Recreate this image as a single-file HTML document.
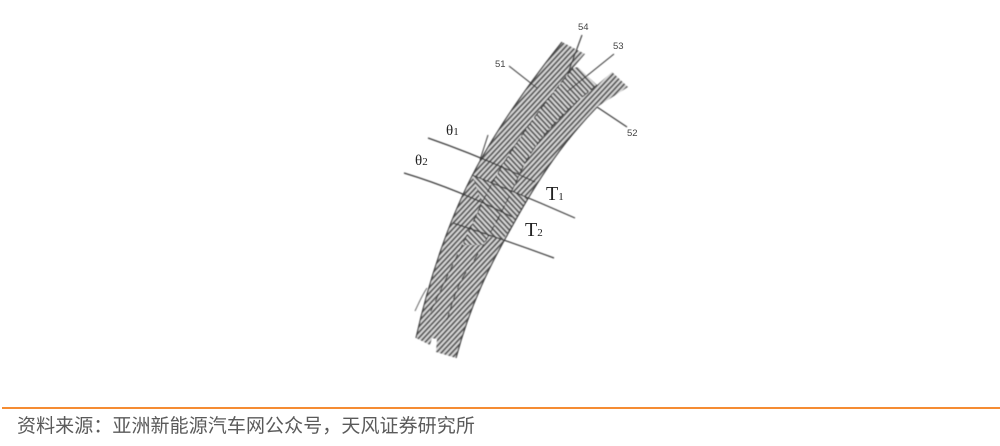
<!DOCTYPE html>
<html lang="zh">
<head>
<meta charset="utf-8">
<style>
html,body{margin:0;padding:0;background:#fff}
body{width:1000px;height:446px;overflow:hidden;position:relative}
svg{position:absolute;left:0;top:0}
.src{position:absolute;left:17px;top:413px;font:19px/28px "Liberation Sans","Noto Sans CJK SC",sans-serif;letter-spacing:.08px;color:#5a5a5a;white-space:nowrap}
.rule{position:absolute;left:2px;right:0;top:407px;height:2px;background:#f58c32}
</style>
</head>
<body>
<svg width="1000" height="446" viewBox="0 0 1000 446" xmlns="http://www.w3.org/2000/svg">
<defs>
<pattern id="a" width="3.8" height="3.8" patternUnits="userSpaceOnUse" patternTransform="rotate(-47)"><rect width="3.8" height="3.8" fill="#d8d8d8"/><rect width="3.8" height="1.9" fill="#5a5a5a"/></pattern>
<pattern id="b" width="3.8" height="3.8" patternUnits="userSpaceOnUse" patternTransform="rotate(47)"><rect width="3.8" height="3.8" fill="#d8d8d8"/><rect width="3.8" height="1.9" fill="#5a5a5a"/></pattern>
<clipPath id="low"><rect x="400" y="245" width="120" height="120"/></clipPath>
<filter id="s" x="-5%" y="-5%" width="110%" height="110%"><feGaussianBlur stdDeviation="0.45"/></filter>
</defs>
<g filter="url(#s)">
<!-- band 51 -->
<path d="M562,42 L585,54 L573,68 C540,108 505,155 482,203 C465,240 445,280 430,313 L432,338 L430,345 L416,338 C430,275 450,220 470,180 C490,140 520,95 562,42 Z" fill="url(#a)"/>
<!-- band 53 -->
<path id="m" d="M573,68 L578,67 L597,85 C565,110 535,140 520,173 C505,207 485,245 463,277 C455,292 450,310 437,339 L432,338 L430,313 C445,280 465,240 482,203 C505,155 540,108 573,68 Z" fill="url(#b)"/>
<path clip-path="url(#low)" d="M573,68 L578,67 L597,85 C565,110 535,140 520,173 C505,207 485,245 463,277 C455,292 450,310 437,339 L432,338 L430,313 C445,280 465,240 482,203 C505,155 540,108 573,68 Z" fill="url(#a)"/>
<!-- band 52 -->
<path d="M612,72 L628,87 L597,107 C565,140 540,175 510,230 C490,265 470,305 456,358 L436,352 L437,339 C450,310 455,292 463,277 C485,245 505,207 520,173 C535,140 565,110 597,85 Z" fill="url(#a)"/>
<!-- crossing zone opposite hatch -->
<polygon points="472,175 528,198 503,240 488,236 500,217 482,203" fill="url(#b)"/>
<g fill="none" stroke="#3a3a3a">
<path d="M562,42 C520,95 490,140 470,180 C450,220 430,275 416,338" stroke-width="1.2"/>
<path d="M597,107 C565,140 540,175 510,230 C490,265 470,305 456,358" stroke-width="1.2"/>
<path d="M573,68 C540,108 505,155 482,203 C465,240 445,280 430,313" stroke-width="1" stroke-dasharray="8 3"/>
<path d="M597,85 C565,110 535,140 520,173 C505,207 485,245 463,277 C455,292 450,310 447,320" stroke-width="1" stroke-dasharray="8 3"/>
<path d="M428,138 Q480,156 535,182" stroke-width="1.2"/>
<path d="M472,175 Q525,196 575,218" stroke-width="1.2"/>
<path d="M404,173 Q460,190 512,217" stroke-width="1.2"/>
<path d="M453,223 Q505,240 554,258" stroke-width="1.2"/>
<path d="M488,135 L480,160" stroke-width="1"/>
<path d="M427,288 C421,297 418,305 415,311" stroke-width="1" stroke="#666"/>
<path d="M582,35 L568,73" stroke-width="1.1"/>
<path d="M614,54 L568,91" stroke-width="1.1"/>
<path d="M509,66 L537,88" stroke-width="1.1"/>
<path d="M597,107 L627,127" stroke-width="1.1"/>
</g>
</g>
<g font-family="Liberation Sans, sans-serif" font-size="9.5" fill="#444">
<text x="578" y="30">54</text>
<text x="613" y="49">53</text>
<text x="495" y="67">51</text>
<text x="627" y="136">52</text>
</g>
<g font-family="Liberation Serif, serif" fill="#222">
<text x="446" y="135" font-size="15">θ<tspan font-size="11">1</tspan></text>
<text x="415" y="165" font-size="15">θ<tspan font-size="11">2</tspan></text>
<text x="546" y="200" font-size="20">T<tspan font-size="11">1</tspan></text>
<text x="525" y="236" font-size="20">T<tspan font-size="11">2</tspan></text>
</g>
</svg>
<div class="rule"></div>
<div class="src">资料来源：亚洲新能源汽车网公众号，天风证券研究所</div>
</body>
</html>
